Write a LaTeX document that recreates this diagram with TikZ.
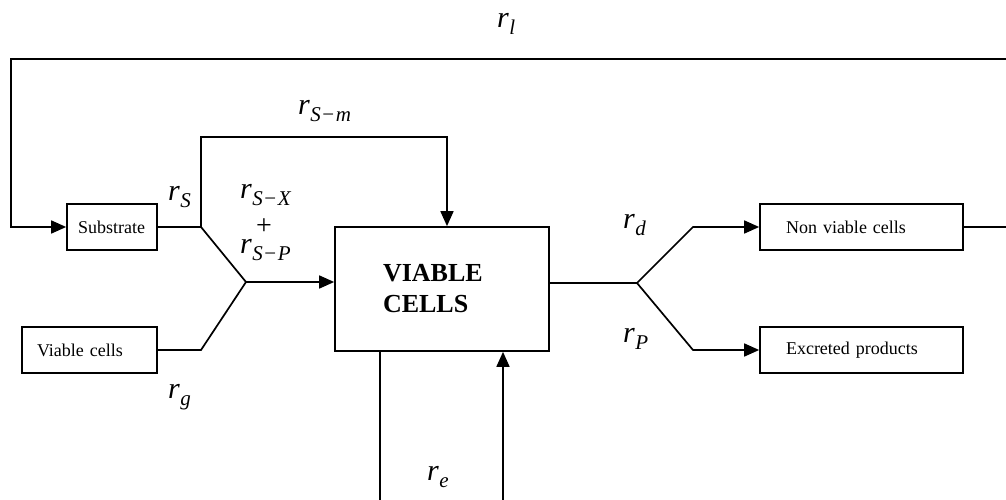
\documentclass[tikz,border=0pt]{standalone}
\usepackage{fontspec}
\setmainfont{Liberation Serif}
\usetikzlibrary{arrows.meta,calc}
\newcommand\rate[1]{\textit{r}\kern0.5pt\raisebox{-7pt}{\fontsize{21}{21}\selectfont #1}}
\newcommand\mn{\kern1.5pt−\kern1.5pt}
\begin{document}
\begin{tikzpicture}[x=1pt,y=-1pt,
  ln/.style={line width=1.7pt},
  arr/.style={ln,-{Triangle[length=15pt,width=13pt]}},
  rbox/.style={draw,line width=1.7pt,minimum height=46pt,inner ysep=0pt,align=left,font=\fontsize{18}{22}\selectfont},
  lab/.style={anchor=base west,inner sep=0pt,font=\fontsize{30}{30}\selectfont}]
\useasboundingbox (0,0) rectangle (1006,500);
% boxes
\node[rbox,inner xsep=11pt,text width=68pt] (sub) at (112,227) {Substrate};
\node[rbox,inner xsep=15pt,text width=105pt] (vc) at (89.5,350) {Viable cells};
\node[rbox,inner xsep=26pt,text width=151pt] (nvc) at (861.5,227) {Non viable cells};
\node[rbox,inner xsep=26pt,text width=151pt] (exc) at (861.5,350) {Excreted products};
\node[draw,line width=1.7pt,minimum width=214pt,minimum height=124pt,inner xsep=48pt,text width=118pt,align=left,
      font=\fontsize{26}{31}\selectfont\bfseries] (vb) at (442,289) {VIABLE\\CELLS};
% junctions
\coordinate (js) at (201,227);
\coordinate (jm) at (246,282);
\coordinate (jv) at (201,350);
\coordinate (mtop) at (447,137);
\coordinate (jo) at (637,283);
\coordinate (ju) at (693,227);
\coordinate (jd) at (693,350);
\coordinate (rc) at (1014,227);
\coordinate (tl) at (11,59);
\coordinate (eout) at (380,506);
\coordinate (ein) at (503,506);
% connectors
\draw[arr] (nvc.east) -- (rc) |- (tl) |- (sub.west);
\draw[ln] (sub.east) -- (js) -- (jm);
\draw[arr] (js) |- (mtop) -- (mtop |- vb.north);
\draw[ln] (vc.east) -- (jv) -- (jm);
\draw[arr] (jm) -- (jm -| vb.west);
\draw[ln] (vb.east |- jo) -- (jo);
\draw[arr] (jo) -- (ju) -- (nvc.west);
\draw[arr] (jo) -- (jd) -- (exc.west);
\draw[ln] (eout |- vb.south) -- (eout);
\draw[arr] (ein) -- (ein |- vb.south);
% labels
\node[lab] (rl) at (497,28) {\rate{\textit{l}}};
\node[lab] (rsm) at (298,114) {\rate{\textit{S}\mn\textit{m}}};
\node[lab] (rs) at (168,200) {\rate{\textit{S}}};
\node[lab] (rsx) at (240,198) {\rate{\textit{S}\mn\textit{X}}};
\node[inner sep=0pt,font=\fontsize{28}{28}\selectfont] (plus) at (264,227) {+};
\node[lab] (rsp) at (240,253) {\rate{\textit{S}\mn\textit{P}}};
\node[lab] (rg) at (168,398) {\rate{\textit{g}}};
\node[lab] (rd) at (623,228) {\rate{\textit{d}}};
\node[lab] (rp) at (623,342) {\rate{\textit{P}}};
\node[lab] (re) at (427,480) {\rate{\textit{e}}};
\end{tikzpicture}
\end{document}
